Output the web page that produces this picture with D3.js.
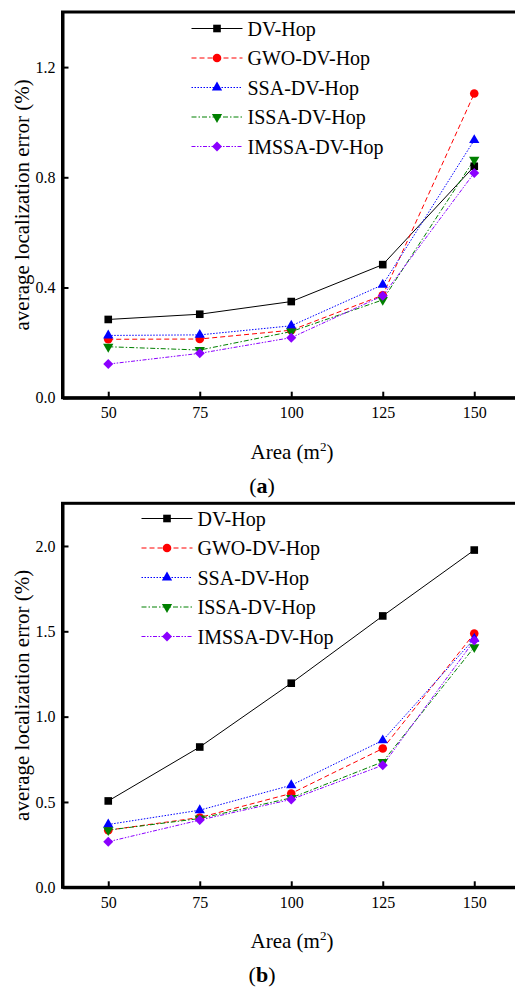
<!DOCTYPE html>
<html>
<head>
<meta charset="utf-8">
<script src="https://cdn.jsdelivr.net/npm/d3@7"></script>
<style>
  html, body { margin: 0; padding: 0; background: #fff; }
  svg { display: block; }
  text { font-family: "Liberation Serif", "Times New Roman", serif; fill: #000; }
</style>
</head>
<body>
<svg id="chart" width="515" height="989"></svg>
<script>
// Areas tested (m^2)
const areas = [50, 75, 100, 125, 150];
const xTicks = [50, 75, 100, 125, 150];

// Algorithms compared
const algorithms = ["DV-Hop", "GWO-DV-Hop", "SSA-DV-Hop", "ISSA-DV-Hop", "IMSSA-DV-Hop"];

// Panel (a): average localization error (%)
const errA_DVHop  = [0.284, 0.303, 0.349, 0.483, 0.840];
const errA_GWO    = [0.212, 0.213, 0.245, 0.372, 1.104];
const errA_SSA    = [0.226, 0.228, 0.261, 0.410, 0.935];
const errA_ISSA   = [0.185, 0.173, 0.240, 0.355, 0.864];
const errA_IMSSA  = [0.122, 0.161, 0.218, 0.370, 0.816];
const yTicksA = [0.0, 0.4, 0.8, 1.2];

// Panel (b): average localization error (%)
const errB_DVHop  = [0.506, 0.822, 1.196, 1.590, 1.976];
const errB_GWO    = [0.335, 0.409, 0.550, 0.813, 1.487];
const errB_SSA    = [0.368, 0.452, 0.598, 0.861, 1.456];
const errB_ISSA   = [0.335, 0.403, 0.524, 0.735, 1.407];
const errB_IMSSA  = [0.267, 0.394, 0.515, 0.715, 1.446];
const yTicksB = [0.0, 0.5, 1.0, 1.5, 2.0];

// Visual style per algorithm
const styles = [
  { color: "#000000", dash: null,                   symbol: "square" },
  { color: "#ff0000", dash: "5,3",                  symbol: "circle" },
  { color: "#0000ff", dash: "1.5,1.5",              symbol: "triangle" },
  { color: "#008000", dash: "5,2,1.5,2",            symbol: "triangleDown" },
  { color: "#8b00ff", dash: "4,1.5,1.5,1.5,1.5,1.5", symbol: "diamond" }
];

const svg = d3.select("#chart");

function markerPath(kind) {
  switch (kind) {
    case "square":       return d3.symbol(d3.symbolSquare, 58)();
    case "circle":       return d3.symbol(d3.symbolCircle, 58)();
    case "triangle":     return d3.symbol(d3.symbolTriangle, 46)();
    case "triangleDown": return d3.symbol(d3.symbolTriangle, 46)();
    case "diamond":      return d3.symbol(d3.symbolSquare, 50)();
  }
}
function markerRotate(kind) {
  if (kind === "triangleDown") return 180;
  if (kind === "diamond") return 45;
  return 0;
}

function drawPanel(cfg) {
  const g = svg.append("g");
  const x = d3.scaleLinear().domain([37.5, 162.5]).range([62.5, 520]);
  const y = d3.scaleLinear().domain(cfg.yDomain).range([cfg.bottom, cfg.top]);

  // frame (right side falls outside the canvas)
  g.append("rect")
    .attr("x", x(37.5)).attr("y", y(cfg.yDomain[1]))
    .attr("width", x(162.5) - x(37.5)).attr("height", y(0) - y(cfg.yDomain[1]))
    .attr("fill", "none").attr("stroke", "#000").attr("stroke-width", 3);

  const xAxis = g.append("g")
    .attr("transform", `translate(0,${y(0)})`)
    .call(d3.axisBottom(x).tickValues(xTicks).tickSizeInner(-6).tickSizeOuter(0).tickPadding(9));
  const yAxis = g.append("g")
    .attr("transform", `translate(${x(37.5)},0)`)
    .call(d3.axisLeft(y).tickValues(cfg.yTicks).tickFormat(d3.format(".1f"))
      .tickSizeInner(-6).tickSizeOuter(0).tickPadding(7));
  [xAxis, yAxis].forEach(a => {
    a.select(".domain").attr("stroke-width", 3);
    a.selectAll(".tick line").attr("stroke-width", 2);
    a.selectAll(".tick text").style("font-family", "'Liberation Serif', serif").style("font-size", "16px");
  });

  // series
  const line = d3.line().x((d, i) => x(areas[i])).y(d => y(d));
  cfg.series.forEach((vals, k) => {
    const st = styles[k];
    g.append("path").datum(vals)
      .attr("d", line).attr("fill", "none")
      .attr("stroke", st.color).attr("stroke-width", 1)
      .attr("stroke-dasharray", st.dash);
  });
  cfg.series.forEach((vals, k) => {
    const st = styles[k];
    g.selectAll(null).data(vals).enter().append("path")
      .attr("d", markerPath(st.symbol))
      .attr("transform", (d, i) => `translate(${x(areas[i])},${y(d)}) rotate(${markerRotate(st.symbol)})`)
      .attr("fill", st.color);
  });

  // legend
  const lg = g.append("g");
  algorithms.forEach((name, k) => {
    const st = styles[k];
    const ly = cfg.legendY + k * 29.5;
    lg.append("line")
      .attr("x1", cfg.legendX).attr("x2", cfg.legendX + 51)
      .attr("y1", ly).attr("y2", ly)
      .attr("stroke", st.color).attr("stroke-width", 1)
      .attr("stroke-dasharray", st.dash);
    lg.append("path")
      .attr("d", markerPath(st.symbol))
      .attr("transform", `translate(${cfg.legendX + 25.5},${ly}) rotate(${markerRotate(st.symbol)})`)
      .attr("fill", st.color);
    lg.append("text")
      .attr("x", cfg.legendX + 56).attr("y", ly + 7)
      .style("font-size", "20px")
      .text(name);
  });

  // axis titles
  const xt = g.append("text")
    .attr("x", 292).attr("y", cfg.bottom + 61)
    .attr("text-anchor", "middle").style("font-size", "21px");
  xt.append("tspan").text("Area (m");
  xt.append("tspan").attr("dy", -8).style("font-size", "13px").text("2");
  xt.append("tspan").attr("dy", 8).text(")");

  g.append("text")
    .attr("transform", `translate(29,${(cfg.top + cfg.bottom) / 2}) rotate(-90)`)
    .attr("text-anchor", "middle").style("font-size", "21px")
    .text("average localization error (%)");

  // panel caption
  const cap = g.append("text")
    .attr("x", 262).attr("y", cfg.captionY)
    .attr("text-anchor", "middle").style("font-size", "22px");
  cap.append("tspan").text("(");
  cap.append("tspan").style("font-weight", "bold").text(cfg.caption);
  cap.append("tspan").text(")");
}

drawPanel({
  top: 12, bottom: 397.7, yDomain: [0, 1.4], yTicks: yTicksA,
  series: [errA_DVHop, errA_GWO, errA_SSA, errA_ISSA, errA_IMSSA],
  legendX: 191.5, legendY: 28.5, caption: "a", captionY: 493
});
drawPanel({
  top: 503.3, bottom: 887.3, yDomain: [0, 2.25], yTicks: yTicksB,
  series: [errB_DVHop, errB_GWO, errB_SSA, errB_ISSA, errB_IMSSA],
  legendX: 141.5, legendY: 518.5, caption: "b", captionY: 982
});
</script>
</body>
</html>
